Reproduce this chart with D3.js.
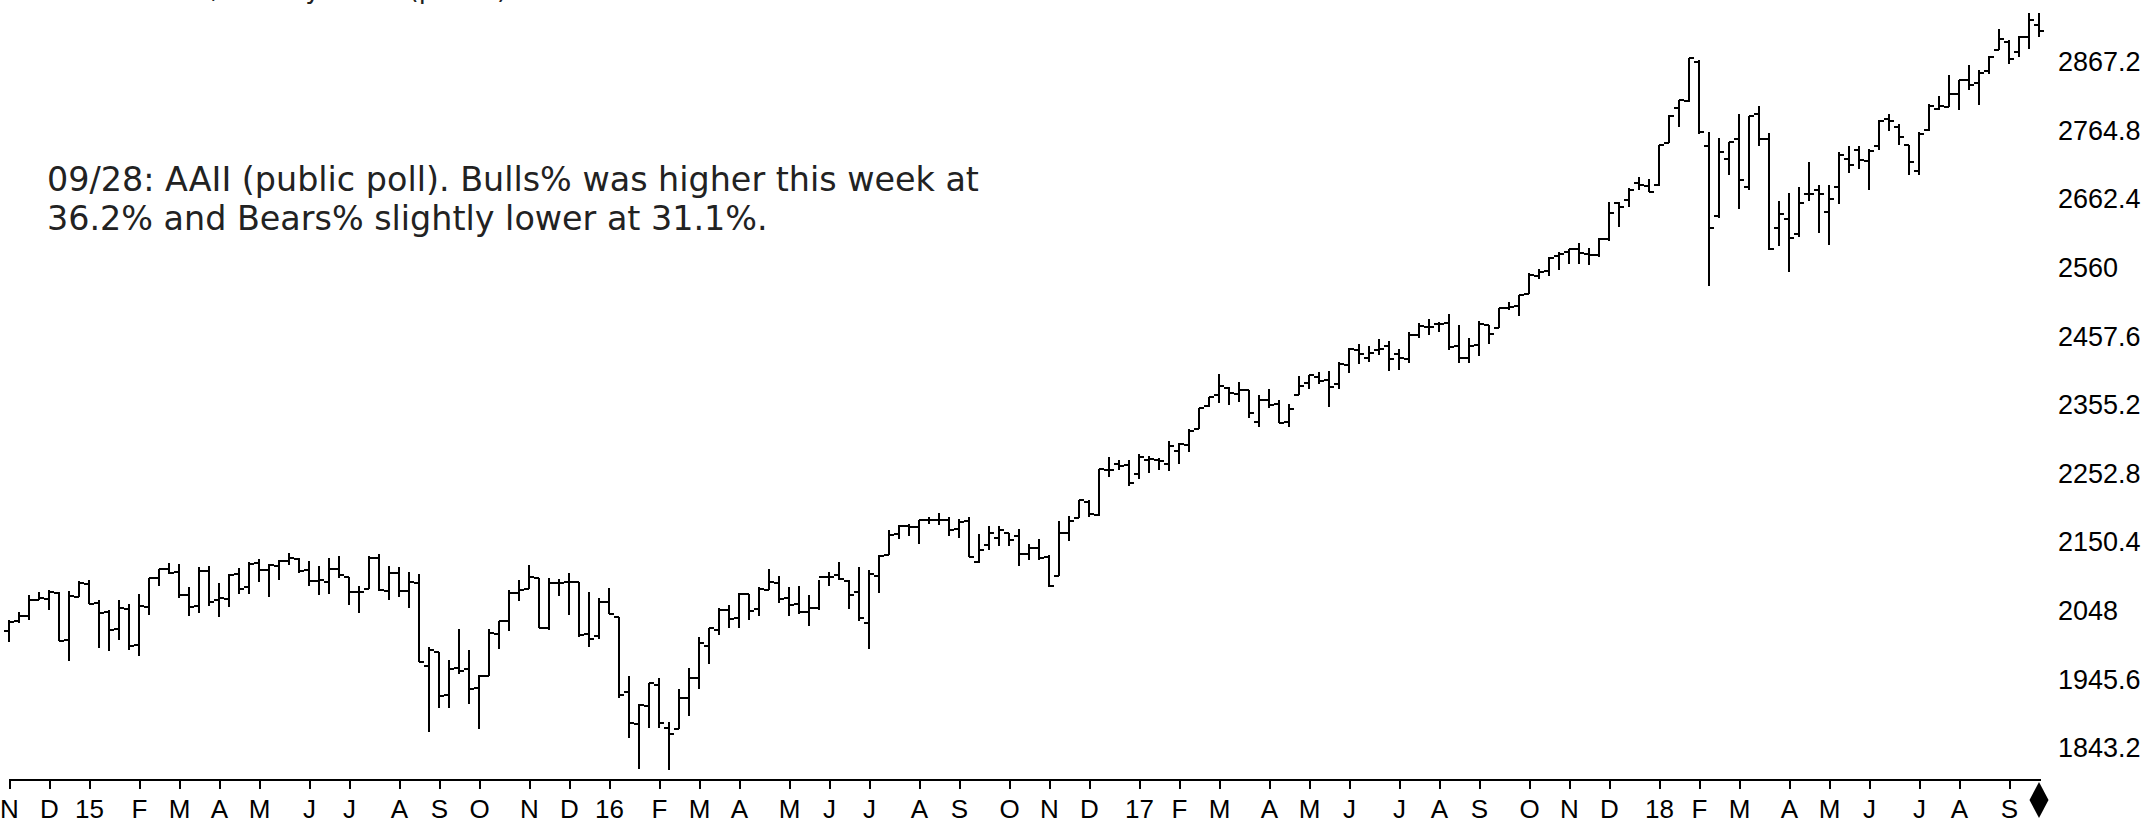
<!DOCTYPE html>
<html>
<head>
<meta charset="utf-8">
<script src="https://cdn.jsdelivr.net/npm/d3@7"></script>
<style>
  html, body { margin: 0; padding: 0; background: #fff; overflow: hidden; }
</style>
</head>
<body>
<svg id="chart"></svg>
<script>
const W = 2156, H = 827;

// weekly bars, one per Friday, Nov 7 2014 .. Sep 28 2018
const firstWeek = new Date(2014, 10, 7);
const lastWeek = new Date(2018, 8, 28);

const openVals = [
  2018.2, 2032.1, 2039.7, 2064.1, 2065.8, 2074.8, 2005.0, 2069.3,
  2087.6, 2058.9, 2046.1, 2020.8, 2050.4, 1996.7, 2053.5, 2096.5, 2109.8, 2105.2,
  2072.3, 2055.4, 2108.0, 2064.1, 2064.9, 2102.9, 2083.1, 2119.3, 2108.4, 2115.6,
  2122.3, 2125.3, 2108.6, 2092.3, 2091.3, 2110.6, 2098.6, 2075.4, 2080.0, 2126.8,
  2078.2, 2104.5, 2077.6, 2089.7, 1965.2, 1986.7, 1921.8, 1963.1, 1960.8, 1932.2,
  1951.4, 2013.7, 2033.5, 2075.1, 2080.8, 2096.6, 2022.1, 2089.4, 2090.9, 2090.4,
  2013.4, 2010.3, 2060.6,
  2038.2, 1926.1, 1878.9, 1906.3, 1936.9, 1873.3, 1871.4, 1917.8, 1947.0, 1996.1,
  2019.3, 2048.6, 2037.9, 2073.2, 2050.2, 2078.8, 2090.0, 2067.2, 2057.6, 2046.5,
  2052.2, 2099.1, 2100.8, 2091.8, 2075.6, 2030.0, 2099.3, 2131.7, 2162.0, 2175.1,
  2173.2, 2183.7, 2183.7, 2183.4, 2170.2, 2181.6, 2120.9, 2145.9, 2157.1, 2164.3,
  2160.4, 2132.6, 2142.0, 2129.0, 2100.6, 2164.6, 2186.9, 2210.2, 2190.6, 2258.8,
  2266.5, 2266.2,
  2251.6, 2273.6, 2272.7, 2267.8, 2286.0, 2295.9, 2319.2, 2354.0, 2369.5, 2381.0,
  2371.6, 2378.2, 2329.1, 2362.3, 2357.2, 2329.5, 2370.3, 2388.5, 2397.1, 2393.0,
  2387.2, 2415.6, 2437.8, 2425.2, 2437.0, 2442.6, 2431.4, 2424.5, 2459.4, 2471.0,
  2475.8, 2477.9, 2444.0, 2425.5, 2444.7, 2474.4, 2470.3, 2500.6, 2503.3, 2521.2,
  2547.4, 2555.7, 2578.1, 2583.2, 2587.5, 2580.2, 2579.5, 2602.7, 2657.2, 2660.6,
  2685.9, 2682.1,
  2683.7, 2745.6, 2798.0, 2809.2, 2867.2, 2741.1, 2636.8, 2722.0, 2752.9, 2681.1,
  2790.2, 2752.2, 2619.4, 2633.5, 2611.0, 2670.1, 2675.4, 2643.0, 2680.8, 2722.7,
  2735.4, 2720.1, 2741.7, 2781.5, 2769.7, 2742.9, 2704.9, 2765.8, 2797.4, 2800.5,
  2819.0, 2840.3, 2835.5, 2853.9, 2884.7, 2897.0, 2881.4, 2903.8, 2921.8
];

const highVals = [
  2034.3, 2046.2, 2071.5, 2075.8, 2079.5, 2075.8, 2077.9, 2092.7,
  2093.6, 2064.4, 2049.3, 2064.6, 2057.6, 2072.4, 2097.0, 2110.6, 2119.6, 2117.5,
  2083.5, 2113.9, 2114.9, 2089.8, 2102.6, 2111.9, 2120.9, 2126.0, 2117.7, 2124.1,
  2134.7, 2126.2, 2121.9, 2115.0, 2126.7, 2129.9, 2098.6, 2085.7, 2129.4, 2132.8,
  2114.2, 2112.7, 2105.4, 2102.9, 1993.5, 1986.7, 1975.0, 2020.9, 1989.4, 1951.8,
  2020.1, 2033.5, 2079.7, 2094.3, 2116.5, 2097.5, 2097.1, 2095.6, 2104.3, 2090.4,
  2076.7, 2067.7, 2081.6,
  2038.2, 1950.3, 1908.9, 1940.2, 1947.2, 1881.6, 1930.7, 1963.0, 2009.1, 2022.4,
  2052.4, 2056.6, 2075.1, 2073.2, 2083.8, 2111.1, 2099.9, 2083.4, 2084.9, 2071.9,
  2094.3, 2105.3, 2120.6, 2093.4, 2113.3, 2108.7, 2131.7, 2169.1, 2175.6, 2177.1,
  2182.9, 2188.5, 2193.8, 2187.9, 2184.9, 2187.9, 2162.3, 2175.3, 2175.3, 2164.4,
  2169.6, 2148.4, 2154.8, 2131.2, 2182.3, 2189.9, 2213.4, 2213.6, 2259.5, 2277.5,
  2272.6, 2273.8,
  2282.1, 2279.3, 2276.2, 2301.0, 2298.3, 2319.2, 2351.3, 2367.3, 2401.0, 2382.8,
  2390.0, 2378.2, 2370.4, 2378.4, 2362.6, 2356.2, 2398.2, 2399.3, 2403.9, 2405.8,
  2418.7, 2440.2, 2446.2, 2442.6, 2453.8, 2450.4, 2439.2, 2463.5, 2477.6, 2484.0,
  2478.5, 2490.9, 2474.9, 2454.8, 2480.4, 2474.5, 2500.2, 2508.9, 2519.4, 2552.5,
  2557.7, 2575.4, 2583.0, 2588.4, 2597.0, 2590.1, 2604.2, 2657.7, 2657.7, 2679.6,
  2695.0, 2692.1,
  2743.5, 2787.9, 2810.3, 2872.9, 2870.6, 2763.4, 2754.4, 2747.8, 2789.2, 2786.6,
  2801.9, 2761.9, 2659.1, 2672.1, 2680.3, 2717.5, 2683.6, 2682.9, 2732.9, 2742.2,
  2742.1, 2736.9, 2779.9, 2789.1, 2774.9, 2743.2, 2763.4, 2804.5, 2816.4, 2848.0,
  2840.4, 2863.4, 2855.6, 2876.2, 2916.5, 2900.2, 2906.3, 2940.9, 2939.9
];

const lowVals = [
  2001.0, 2030.2, 2034.1, 2064.0, 2049.6, 2002.3, 1972.6, 2069.3,
  2057.9, 1992.4, 1988.1, 2004.5, 1989.2, 1980.9, 2041.9, 2085.4, 2103.0, 2067.3,
  2039.7, 2044.0, 2055.5, 2039.1, 2053.0, 2072.5, 2073.5, 2091.0, 2067.9, 2093.4,
  2117.0, 2104.8, 2085.7, 2072.1, 2072.5, 2097.5, 2056.3, 2044.0, 2080.0, 2077.9,
  2063.5, 2067.9, 2052.1, 1970.9, 1867.0, 1903.1, 1903.0, 1953.0, 1908.8, 1872.0,
  1951.4, 1990.7, 2017.2, 2062.5, 2080.8, 2022.6, 2019.4, 2070.3, 2042.4, 2008.8,
  1993.3, 2005.6, 2043.6,
  1918.5, 1857.8, 1812.3, 1872.7, 1872.7, 1810.1, 1871.4, 1891.0, 1931.8, 1969.3,
  2012.5, 2022.5, 2022.0, 2033.8, 2039.7, 2078.8, 2060.2, 2039.5, 2043.1, 2025.9,
  2049.0, 2085.4, 2093.3, 2050.4, 2032.6, 1991.7, 2074.0, 2131.7, 2154.8, 2159.1,
  2147.6, 2178.0, 2175.4, 2160.4, 2157.1, 2127.8, 2119.1, 2139.2, 2145.3, 2144.9,
  2114.7, 2124.4, 2123.6, 2083.8, 2100.6, 2151.8, 2186.9, 2187.4, 2189.6, 2248.4,
  2258.8, 2233.6,
  2245.1, 2254.3, 2258.4, 2257.0, 2267.2, 2285.4, 2319.2, 2352.3, 2358.4, 2354.6,
  2359.9, 2335.4, 2322.3, 2350.4, 2328.9, 2322.7, 2370.3, 2378.9, 2386.8, 2352.7,
  2379.7, 2403.6, 2415.7, 2419.4, 2430.1, 2405.7, 2407.7, 2418.0, 2454.8, 2459.9,
  2464.1, 2437.8, 2417.4, 2417.4, 2428.2, 2446.6, 2470.3, 2496.3, 2488.0, 2520.4,
  2543.4, 2547.9, 2557.4, 2566.2, 2566.3, 2564.3, 2575.5, 2600.3, 2620.3, 2650.6,
  2676.1, 2673.6,
  2682.7, 2745.6, 2769.9, 2808.1, 2759.7, 2532.7, 2634.8, 2697.8, 2647.3, 2675.8,
  2741.4, 2585.9, 2593.0, 2553.8, 2605.5, 2660.0, 2612.2, 2594.6, 2655.2, 2701.9,
  2707.4, 2676.8, 2735.3, 2764.4, 2742.9, 2698.7, 2698.9, 2764.0, 2795.1, 2799.9,
  2795.3, 2825.8, 2802.5, 2848.8, 2884.7, 2864.1, 2874.3, 2886.2, 2904.9
];

const closeVals = [
  2031.9, 2039.8, 2063.5, 2067.6, 2075.4, 2002.3, 2070.7, 2088.8,
  2058.2, 2044.8, 2019.4, 2051.8, 1995.0, 2055.5, 2097.0, 2110.3, 2104.5, 2071.3,
  2053.4, 2108.1, 2061.0, 2067.0, 2102.1, 2081.2, 2117.7, 2108.3, 2116.1, 2122.7,
  2126.1, 2107.4, 2092.8, 2094.1, 2110.0, 2101.5, 2076.8, 2076.6, 2126.6, 2079.7,
  2103.8, 2077.6, 2091.5, 1970.9, 1988.9, 1921.2, 1961.1, 1958.1, 1931.3, 1951.4,
  2014.9, 2033.1, 2075.2, 2079.4, 2099.2, 2023.0, 2089.2, 2090.1, 2091.7, 2012.4,
  2005.6, 2061.0, 2043.9,
  1922.0, 1880.3, 1906.9, 1940.2, 1880.1, 1864.8, 1917.8, 1948.1, 2000.0, 2022.2,
  2049.6, 2035.9, 2072.8, 2047.6, 2080.7, 2091.6, 2065.3, 2057.1, 2046.6, 2052.3,
  2099.1, 2099.1, 2096.1, 2071.2, 2037.4, 2103.0, 2129.9, 2161.7, 2175.0, 2173.6,
  2182.9, 2184.1, 2183.9, 2169.0, 2180.0, 2127.8, 2139.2, 2164.7, 2168.3, 2153.7,
  2133.0, 2141.2, 2126.4, 2085.2, 2164.5, 2181.9, 2213.4, 2192.0, 2259.5, 2258.1,
  2263.8, 2238.8,
  2277.0, 2274.6, 2271.3, 2294.7, 2297.4, 2316.1, 2351.2, 2367.3, 2383.1, 2372.6,
  2378.3, 2344.0, 2362.7, 2355.5, 2329.0, 2348.7, 2384.2, 2399.3, 2390.9, 2381.7,
  2415.8, 2439.1, 2431.8, 2433.2, 2438.3, 2423.4, 2425.2, 2459.3, 2472.5, 2472.1,
  2476.8, 2441.3, 2425.6, 2443.1, 2476.6, 2461.4, 2500.2, 2502.2, 2519.4, 2549.3,
  2553.2, 2575.2, 2581.1, 2587.8, 2582.3, 2578.9, 2602.4, 2642.2, 2651.5, 2675.8,
  2683.3, 2673.6,
  2743.2, 2786.2, 2810.3, 2872.9, 2762.1, 2619.6, 2732.2, 2747.3, 2691.3, 2786.6,
  2752.0, 2588.3, 2640.9, 2604.5, 2656.3, 2670.1, 2669.9, 2663.4, 2727.7, 2713.0,
  2721.3, 2734.6, 2779.0, 2779.4, 2754.9, 2718.4, 2759.8, 2801.3, 2801.8, 2818.8,
  2840.4, 2833.3, 2850.1, 2874.7, 2901.5, 2871.7, 2905.0, 2929.7, 2914.0
];

const yTickValues = [1843.2, 1945.6, 2048, 2150.4, 2252.8, 2355.2, 2457.6, 2560, 2662.4, 2764.8, 2867.2];
const monthLetters = ["J", "F", "M", "A", "M", "J", "J", "A", "S", "O", "N", "D"];
const titleText = "S&P 500 Index, Weekly Chart (public)";
const noteLines = [
  "09/28: AAII (public poll). Bulls% was higher this week at",
  "36.2% and Bears% slightly lower at 31.1%."
];

const weeks = d3.timeFriday.range(firstWeek, d3.timeDay.offset(lastWeek, 1));
const bars = weeks.map((d, i) => ({
  date: d, open: openVals[i], high: highVals[i], low: lowVals[i], close: closeVals[i]
}));

const svg = d3.select("#chart")
  .attr("width", W)
  .attr("height", H)
  .style("display", "block")
  .style("background", "#fff");

const x = d3.scaleTime()
  .domain([firstWeek, lastWeek])
  .range([9, 2039]);

const y = d3.scaleLinear()
  .domain([1843.2, 2867.2])
  .range([748, 62]);

// title line, cut by the top edge as in the source chart
svg.append("text")
  .attr("x", 20)
  .attr("y", -2)
  .attr("font-family", "'DejaVu Sans', Verdana, sans-serif")
  .attr("font-size", 26)
  .attr("fill", "#222")
  .text(titleText);

// note text
const note = svg.append("g")
  .attr("font-family", "'DejaVu Sans', Verdana, sans-serif")
  .attr("fill", "#222");

const noteTexts = note.selectAll("text")
  .data(noteLines)
  .join("text")
  .attr("x", 47)
  .attr("y", (d, i) => 191 + i * 39)
  .attr("font-size", 27)
  .text(d => d);

const w1 = noteTexts.nodes()[0].getComputedTextLength();
noteTexts.attr("font-size", 27 * 932 / w1);

// bottom axis: a tick at the first bar of every month
const monthStarts = weeks.filter((d, i) => i === 0 || d.getMonth() !== weeks[i - 1].getMonth());

const xAxis = d3.axisBottom(x)
  .tickValues(monthStarts)
  .tickSize(9)
  .tickSizeOuter(0)
  .tickPadding(11)
  .tickFormat(d => d.getMonth() === 0 ? d3.timeFormat("%y")(d) : monthLetters[d.getMonth()]);

const gx = svg.append("g")
  .attr("transform", "translate(0,780)")
  .call(xAxis);

gx.select(".domain")
  .attr("stroke", "#000")
  .attr("stroke-width", 2)
  .attr("shape-rendering", "crispEdges")
  .attr("d", "M9,0H2041");
gx.selectAll(".tick line")
  .attr("stroke", "#000")
  .attr("stroke-width", 2)
  .attr("shape-rendering", "crispEdges");
gx.selectAll(".tick text")
  .attr("fill", "#000")
  .attr("font-family", "'Liberation Sans', Arial, sans-serif")
  .attr("font-size", 26);

// right price axis
const yAxis = d3.axisRight(y)
  .tickValues(yTickValues)
  .tickSize(0)
  .tickPadding(0)
  .tickFormat(d => String(d));

const gy = svg.append("g")
  .attr("transform", "translate(2058,0)")
  .call(yAxis);

gy.select(".domain").remove();
gy.selectAll(".tick text")
  .attr("fill", "#000")
  .attr("font-family", "'Liberation Sans', Arial, sans-serif")
  .attr("font-size", 27);

// OHLC bars: open tick left, close tick right
svg.append("g")
  .attr("fill", "none")
  .attr("stroke", "#000")
  .attr("stroke-width", 2)
  .attr("shape-rendering", "crispEdges")
  .selectAll("path")
  .data(bars)
  .join("path")
  .attr("d", d => {
    const cx = Math.round(x(d.date));
    const yo = Math.round(y(d.open));
    const yc = Math.round(y(d.close));
    return `M${cx},${Math.round(y(d.high))}V${Math.round(y(d.low))}M${cx - 5},${yo}H${cx}M${cx},${yc}H${cx + 5}`;
  });

// current-bar diamond marker under the axis
const lastX = x(lastWeek);
svg.append("path")
  .attr("d", `M${lastX},782L${lastX + 9.5},800L${lastX},818L${lastX - 9.5},800Z`)
  .attr("fill", "#000");
</script>
</body>
</html>
